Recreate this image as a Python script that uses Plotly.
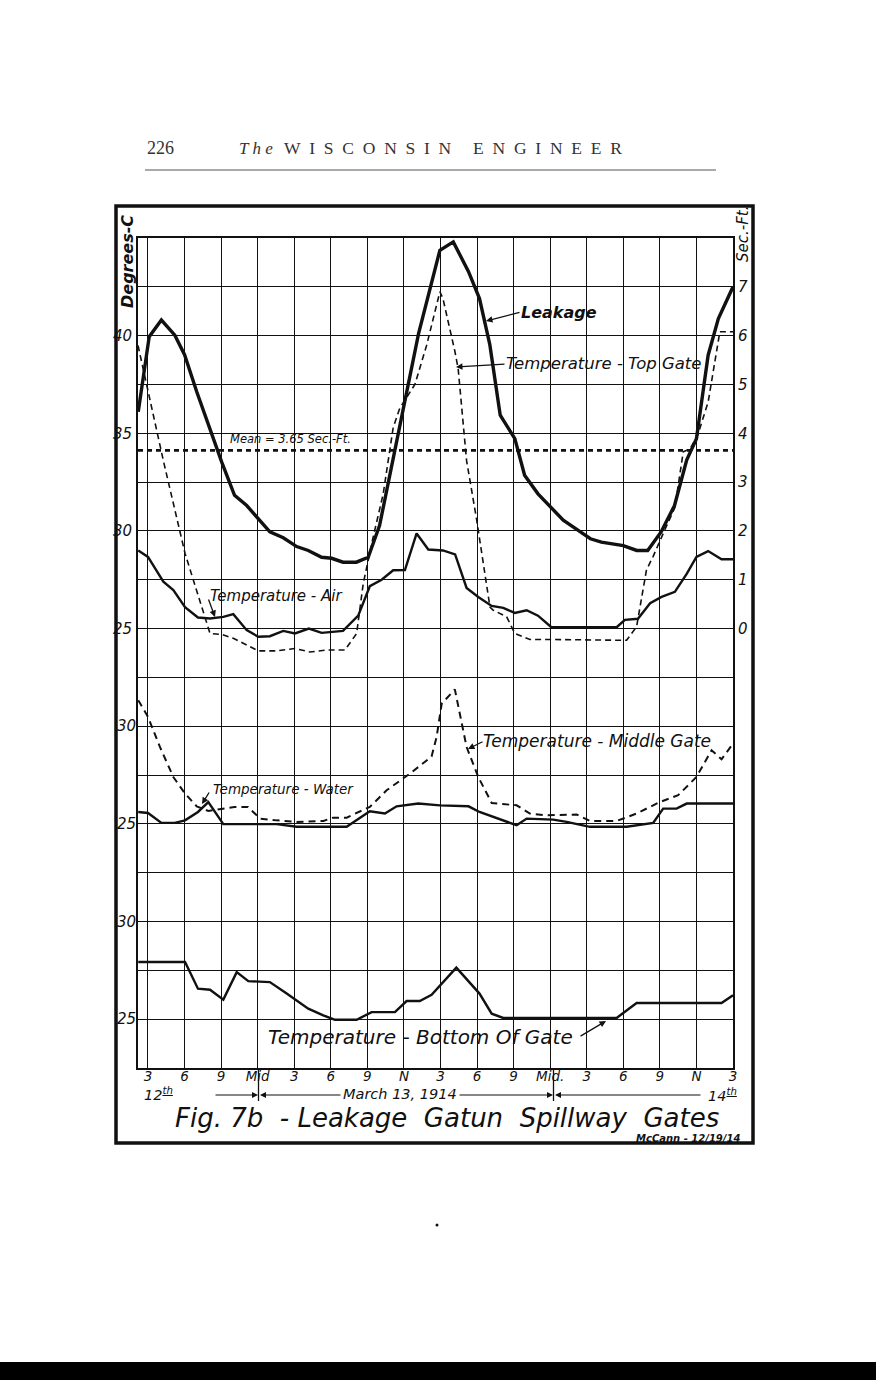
import plotly.graph_objects as go
import numpy as np

# ---------------- data (hours after 3 a.m., March 12th) ----------------
hour_ticks = list(range(0, 49, 3))
hour_labels = ["3", "6", "9", "Mid", "3", "6", "9", "N", "3", "6", "9", "Mid.", "3", "6", "9", "N", "3"]

leak_h = [-0.8, 0.1, 1.1, 2.2, 3.0, 4.0, 6.05, 7.1, 8.1, 10.0, 11.1, 12.2, 13.15, 14.25, 15.07, 16.0,
          17.1, 18.07, 19.0, 20.1, 20.7, 22.2, 23.95, 25.05, 26.3, 27.2, 28.05, 28.9, 30.1, 30.9, 32.0,
          34.07, 35.3, 36.3, 37.2, 39.0, 40.1, 41.0, 42.1, 43.2, 44.2, 45.0, 45.96, 46.8, 48.0]
leak_v = [4.44, 5.98, 6.32, 6.01, 5.61, 4.85, 3.41, 2.73, 2.52, 1.98, 1.86, 1.68, 1.60, 1.46, 1.44, 1.36,
          1.36, 1.46, 2.11, 3.45, 4.16, 6.04, 7.75, 7.92, 7.31, 6.76, 5.81, 4.37, 3.89, 3.14, 2.76,
          2.22, 2.01, 1.84, 1.77, 1.70, 1.60, 1.60, 1.98, 2.52, 3.45, 3.89, 5.60, 6.35, 7.00]
leak_mean = 3.65

top_h = [-0.82, -0.1, 1.26, 3.04, 5.09, 6.05, 7.0, 9.05, 10.56, 12.06, 13.29, 14.66, 16.16, 17.12, 17.39,
         17.66, 18.48, 19.3, 20.12, 20.67, 21.9, 22.86, 23.95, 24.2, 25.18, 25.45, 26.14, 26.96, 28.06,
         28.33, 29.43, 30.1, 31.34, 33.25, 39.27, 40.09, 40.9, 41.45, 42.27, 43.23, 43.92, 44.47, 45.1,
         45.96, 46.92, 48.0]
top_t = [39.5, 37.5, 33.6, 28.85, 24.75, 24.7, 24.5, 23.86, 23.86, 23.98, 23.8, 23.9, 23.9, 24.75, 26.1,
         27.3, 29.7, 31.9, 35.3, 36.3, 37.5, 39.5, 42.25, 41.9, 39.2, 38.3, 33.6, 30.6, 26.1,
         25.94, 25.6, 24.75, 24.44, 24.44, 24.4, 25.1, 28.0, 28.7, 29.87, 31.2, 34.05, 34.2, 34.9,
         36.6, 40.2, 40.2]

air_h = [-0.8, 0.0, 1.26, 2.08, 3.04, 4.1, 5.09, 6.18, 7.0, 8.1, 9.05, 10.0, 11.1, 12.06, 13.2, 14.25,
         16.0, 17.25, 18.2, 19.17, 20.12, 21.08, 22.04, 23.0, 24.2, 25.2, 26.14, 27.1, 28.2, 29.15,
         30.1, 31.07, 32.0, 33.1, 38.45, 39.13, 40.2, 41.2, 42.14, 43.23, 44.2, 45.0, 45.96, 47.06, 48.0]
air_t = [29.0, 28.67, 27.4, 26.97, 26.1, 25.57, 25.52, 25.6, 25.74, 24.92, 24.58, 24.61, 24.88, 24.75,
         25.0, 24.78, 24.88, 25.66, 27.17, 27.5, 27.99, 28.0, 29.87, 29.05, 29.0, 28.8, 27.08, 26.62,
         26.16, 26.06, 25.8, 25.94, 25.66, 25.07, 25.07, 25.45, 25.5, 26.3, 26.62, 26.88, 27.8, 28.67,
         28.97, 28.55, 28.55]

mid_h = [-0.8, 0.0, 0.98, 2.08, 3.04, 4.0, 4.95, 6.05, 7.1, 8.2, 9.2, 10.56, 12.2, 14.4, 15.2, 16.3,
         18.2, 19.58, 21.5, 23.27, 23.68, 24.1, 25.18, 26.14, 27.1, 28.2, 30.25, 31.34, 32.7, 35.17,
         36.26, 38.45, 40.09, 42.0, 43.5, 45.0, 46.24, 47.06, 48.0]
mid_t = [31.33, 30.48, 28.94, 27.4, 26.55, 25.9, 25.66, 25.78, 25.87, 25.87, 25.27, 25.18, 25.1, 25.15,
         25.32, 25.32, 25.87, 26.72, 27.58, 28.45, 29.45, 31.16, 31.88, 28.94, 27.4, 26.07, 25.95,
         25.53, 25.44, 25.48, 25.15, 25.15, 25.53, 26.12, 26.47, 27.4, 28.77, 28.31, 29.11]

wat_h = [-0.8, 0.0, 1.1, 2.2, 3.04, 4.1, 4.95, 5.6, 6.18, 10.56, 12.2, 16.3, 17.25, 18.2, 19.44, 20.4,
         22.17, 23.95, 26.3, 27.2, 30.25, 31.07, 33.25, 34.35, 36.26, 39.27, 41.45, 42.27, 43.37,
         44.2, 48.0]
wat_t = [25.61, 25.56, 25.05, 25.05, 25.18, 25.61, 26.12, 25.53, 24.99, 24.99, 24.85, 24.85, 25.27,
         25.65, 25.53, 25.9, 26.04, 25.95, 25.9, 25.61, 24.93, 25.27, 25.22, 25.1, 24.85, 24.85, 25.05,
         25.78, 25.78, 26.04, 26.04]

bot_h = [-0.8, 3.04, 4.1, 5.09, 6.18, 7.28, 8.23, 10.0, 11.38, 13.15, 14.38, 15.34, 17.12, 18.35,
         20.26, 21.22, 22.3, 23.27, 25.3, 27.2, 28.2, 29.15, 38.45, 40.09, 47.06, 48.0]
bot_t = [27.93, 27.93, 26.56, 26.51, 26.0, 27.41, 26.95, 26.9, 26.31, 25.54, 25.2, 24.97, 24.97, 25.36,
         25.36, 25.93, 25.93, 26.25, 27.64, 26.31, 25.28, 25.06, 25.06, 25.83, 25.83, 26.22]

# ---------------- layout helpers ----------------
W, H = 876, 1380
L, R, T, B = 138, 733, 238, 1068


def PX(px):
    return (px - L) / (R - L)


def PY(py):
    return (B - py) / (B - T)


HAND = "DejaVu Sans"
SERIF = "Liberation Serif"
INK = "#111111"

fig = go.Figure()

line_solid = dict(color=INK, width=2.4)
fig.add_trace(go.Scatter(x=leak_h, y=leak_v, yaxis="y2", mode="lines",
                         line=dict(color=INK, width=3.4), name="Leakage"))
fig.add_trace(go.Scatter(x=[-0.82, 48], y=[leak_mean, leak_mean], yaxis="y2", mode="lines",
                         line=dict(color=INK, width=2.6, dash="5px,4px"), name="Mean"))
fig.add_trace(go.Scatter(x=top_h, y=top_t, yaxis="y", mode="lines",
                         line=dict(color=INK, width=1.6, dash="6px,4px"), name="Top Gate"))
fig.add_trace(go.Scatter(x=air_h, y=air_t, yaxis="y", mode="lines", line=line_solid, name="Air"))
fig.add_trace(go.Scatter(x=mid_h, y=mid_t, yaxis="y3", mode="lines",
                         line=dict(color=INK, width=2.0, dash="7px,5px"), name="Middle Gate"))
fig.add_trace(go.Scatter(x=wat_h, y=wat_t, yaxis="y3", mode="lines", line=line_solid, name="Water"))
fig.add_trace(go.Scatter(x=bot_h, y=bot_t, yaxis="y4", mode="lines", line=line_solid, name="Bottom"))

tick_font = dict(family=HAND, size=15, color=INK, style="italic")
grid_vals = list(np.arange(2.5, 45.01, 2.5))
left_top_text = [str(int(v)) if v in (25, 30, 35, 40) else " " for v in grid_vals]

fig.update_layout(
    width=W, height=H,
    margin=dict(l=L, r=W - R, t=T, b=H - B),
    paper_bgcolor="white", plot_bgcolor="white",
    showlegend=False,
    xaxis=dict(range=[-0.82, 48], tickvals=hour_ticks, ticktext=hour_labels,
               showgrid=True, gridcolor=INK, gridwidth=1.3, zeroline=False,
               showline=True, mirror=True, linecolor=INK, linewidth=2,
               ticks="", tickfont=dict(family=HAND, size=13.5, color=INK, style="italic"),
               ticklabelstandoff=-5),
    yaxis=dict(range=[2.5, 45], tickvals=grid_vals, ticktext=left_top_text,
               showgrid=True, gridcolor=INK, gridwidth=1.3, zeroline=False,
               showline=True, mirror=True, linecolor=INK, linewidth=2,
               ticks="", tickfont=tick_font, ticklabelstandoff=1),
    yaxis2=dict(range=[-9, 8], overlaying="y", side="right", tickvals=list(range(0, 8)),
                showgrid=False, zeroline=False, ticks="", tickfont=tick_font, ticklabelstandoff=4),
    yaxis3=dict(range=[12.5, 55], overlaying="y", side="left", tickvals=[25, 30],
                showgrid=False, zeroline=False, ticks="", tickfont=tick_font, ticklabelstandoff=1),
    yaxis4=dict(range=[22.5, 65], overlaying="y", side="left", tickvals=[25, 30],
                showgrid=False, zeroline=False, ticks="", tickfont=tick_font, ticklabelstandoff=1),
)

ann = []


def text(s, px, py, size=15, xanchor="left", angle=0, family=HAND, italic=True, color=INK):
    ann.append(dict(text=s, x=PX(px), y=PY(py), xref="paper", yref="paper", showarrow=False,
                    xanchor=xanchor, yanchor="middle", textangle=angle,
                    font=dict(family=family, size=size, color=color,
                              style="italic" if italic else "normal")))


def arrow(tx, ty, hx, hy, head=2, width=1.3, size=1.0):
    ann.append(dict(text="", x=PX(hx), y=PY(hy), xref="paper", yref="paper", showarrow=True,
                    ax=tx - hx, ay=ty - hy, arrowhead=head, arrowwidth=width, arrowsize=size,
                    arrowcolor=INK, standoff=0, startstandoff=0, font=dict(size=10)))


# axis titles
text("<b>Degrees-C</b>", 127, 262, size=16, xanchor="center", angle=-90)
text("Sec.-Ft.", 743, 234, size=15, xanchor="center", angle=-90)

# mean label
text("Mean = 3.65 Sec.-Ft.", 228, 439, size=11.5)

# curve labels
text("<b>Leakage</b>", 519, 312, size=16)
arrow(521, 312, 486, 321)
text("Temperature - Top Gate", 504, 363, size=16.5)
arrow(506, 364, 456, 367)
text("Temperature - Air", 208, 596, size=15)
arrow(208, 598, 215, 617, head=2)
text("Temperature - Middle Gate", 481, 741, size=17)
arrow(484, 741, 468, 749)
text("Temperature - Water", 211, 789, size=13.5)
arrow(210, 791, 202, 804, head=2)
text("Temperature - Bottom Of Gate", 266, 1037, size=20)
arrow(579, 1037, 606, 1021)

# date row
text("12<sup><u>th</u></sup>", 142, 1094, size=14.5)
text("March 13, 1914", 400, 1094, size=14.5, xanchor="center")
text("14<sup><u>th</u></sup>", 706, 1095, size=14.5)
arrow(214, 1095, 258, 1095, head=2, width=1.2)
arrow(342, 1095, 260, 1095, head=2, width=1.2)
arrow(458, 1095, 553, 1095, head=2, width=1.2)
arrow(702, 1095, 555, 1095, head=2, width=1.2)

# title and signature
text("Fig. 7b  - Leakage  Gatun  Spillway  Gates", 447, 1118, size=26, xanchor="center")
text("<b>McCann - 12/19/14</b>", 634, 1138, size=10)

# page header
text("226", 145, 148, size=18, family=SERIF, italic=False, color="#333333")
text("<i>T h e</i>", 237, 148, size=17, family=SERIF, italic=False, color="#333333")
text("W\u00a0\u00a0I\u00a0\u00a0S\u00a0\u00a0C\u00a0\u00a0O\u00a0\u00a0N\u00a0\u00a0S\u00a0\u00a0I\u00a0\u00a0N"
     "\u00a0\u00a0\u00a0\u00a0\u00a0"
     "E\u00a0\u00a0N\u00a0\u00a0G\u00a0\u00a0I\u00a0\u00a0N\u00a0\u00a0E\u00a0\u00a0E\u00a0\u00a0R",
     282, 148, size=17.5, family=SERIF, italic=False, color="#333333")

fig.update_layout(annotations=ann)

shapes = [
    # outer frame
    dict(type="rect", xref="paper", yref="paper", x0=PX(116), x1=PX(753), y0=PY(1143), y1=PY(206),
         line=dict(color=INK, width=3.5)),
    # header rule
    dict(type="line", xref="paper", yref="paper", x0=PX(145), x1=PX(716), y0=PY(170), y1=PY(170),
         line=dict(color="#555555", width=1)),
    # Mid separators in the date row
    dict(type="line", xref="paper", yref="paper", x0=PX(258.5), x1=PX(258.5), y0=PY(1068), y1=PY(1101),
         line=dict(color=INK, width=1.3)),
    dict(type="line", xref="paper", yref="paper", x0=PX(553.5), x1=PX(553.5), y0=PY(1068), y1=PY(1101),
         line=dict(color=INK, width=1.3)),
    # black bar at page bottom
    dict(type="rect", xref="paper", yref="paper", x0=PX(0), x1=PX(876), y0=PY(1380), y1=PY(1362),
         fillcolor="black", line=dict(width=0)),
    # small speck
    dict(type="circle", xref="paper", yref="paper", x0=PX(435.5), x1=PX(438.5), y0=PY(1226.5),
         y1=PY(1223.5), fillcolor=INK, line=dict(width=0)),
]
fig.update_layout(shapes=shapes)

fig.write_html("out.html", config={"displayModeBar": False},
               post_script="document.body.style.margin='0';document.body.style.overflow='hidden';")
